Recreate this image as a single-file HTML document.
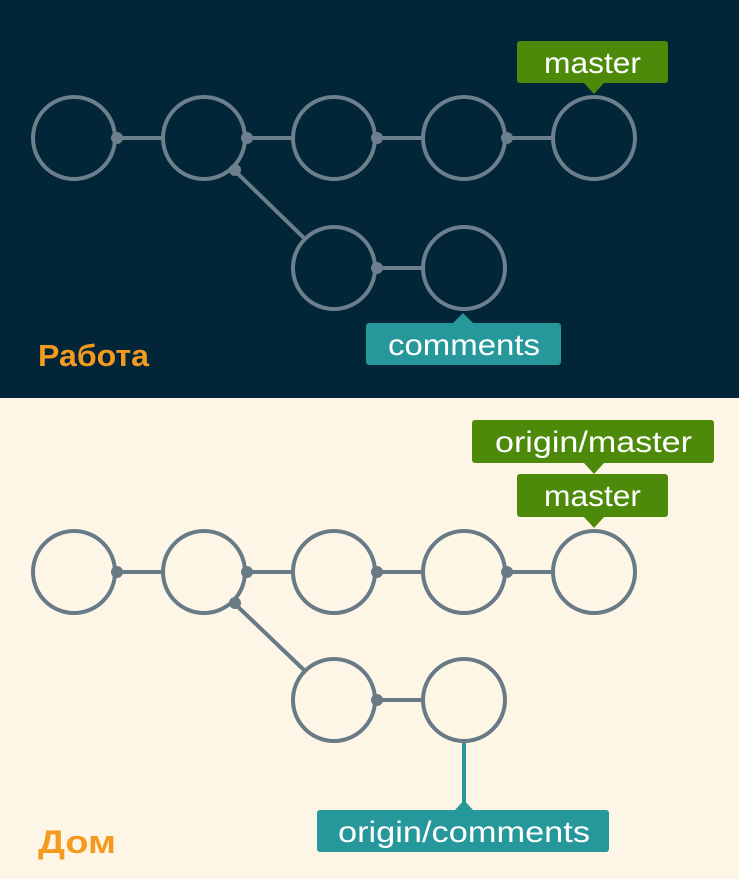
<!DOCTYPE html>
<html><head><meta charset="utf-8"><style>
html,body{margin:0;padding:0;}
body{width:739px;height:879px;overflow:hidden;background:#fdf6e6;}
svg{display:block;}
text{font-family:"Liberation Sans","DejaVu Sans",sans-serif;}
</style></head><body>
<svg width="739" height="879" viewBox="0 0 739 879" xmlns="http://www.w3.org/2000/svg">
<rect x="0" y="0" width="739" height="398" fill="#032538"/>
<rect x="0" y="398" width="739" height="481" fill="#fdf6e6"/>

<!-- TOP -->
<g stroke="#6b7f8d" stroke-width="4" fill="none">
  <line x1="116" y1="138" x2="162" y2="138"/>
  <line x1="246" y1="138" x2="292" y2="138"/>
  <line x1="376" y1="138" x2="422" y2="138"/>
  <line x1="506" y1="138" x2="552" y2="138"/>
  <line x1="376" y1="268" x2="422" y2="268"/>
  <line x1="234" y1="170" x2="304" y2="238"/>
  <circle cx="74" cy="138" r="41"/>
  <circle cx="204" cy="138" r="41"/>
  <circle cx="334" cy="138" r="41"/>
  <circle cx="464" cy="138" r="41"/>
  <circle cx="594" cy="138" r="41"/>
  <circle cx="334" cy="268" r="41"/>
  <circle cx="464" cy="268" r="41"/>
</g>
<g fill="#6b7f8d">
  <circle cx="117" cy="138" r="6"/><circle cx="247" cy="138" r="6"/>
  <circle cx="377" cy="138" r="6"/><circle cx="507" cy="138" r="6"/>
  <circle cx="377" cy="268" r="6"/><circle cx="235" cy="170" r="6"/>
</g>
<rect x="517" y="41" width="151" height="42" rx="3" fill="#4d8a0a"/>
<polygon points="584,83 604,83 594,94" fill="#4d8a0a"/>
<text x="544" y="73" font-size="30" fill="#fff" textLength="97" lengthAdjust="spacingAndGlyphs">master</text>
<rect x="366" y="323" width="195" height="42" rx="3" fill="#26979a"/>
<polygon points="453,323 473,323 463,313" fill="#26979a"/>
<text x="388" y="355" font-size="30" fill="#fff" textLength="152" lengthAdjust="spacingAndGlyphs">comments</text>
<text x="38" y="366" font-size="31" font-weight="bold" fill="#f39a1f" textLength="111" lengthAdjust="spacingAndGlyphs">Работа</text>

<!-- BOTTOM -->
<g stroke="#677a86" stroke-width="4" fill="none">
  <line x1="116" y1="572" x2="162" y2="572"/>
  <line x1="246" y1="572" x2="292" y2="572"/>
  <line x1="376" y1="572" x2="422" y2="572"/>
  <line x1="506" y1="572" x2="552" y2="572"/>
  <line x1="376" y1="700" x2="422" y2="700"/>
  <line x1="234" y1="603" x2="304" y2="670"/>
  <circle cx="74" cy="572" r="41"/>
  <circle cx="204" cy="572" r="41"/>
  <circle cx="334" cy="572" r="41"/>
  <circle cx="464" cy="572" r="41"/>
  <circle cx="594" cy="572" r="41"/>
  <circle cx="334" cy="700" r="41"/>
  <circle cx="464" cy="700" r="41"/>
</g>
<g fill="#677a86">
  <circle cx="117" cy="572" r="6"/><circle cx="247" cy="572" r="6"/>
  <circle cx="377" cy="572" r="6"/><circle cx="507" cy="572" r="6"/>
  <circle cx="377" cy="700" r="6"/><circle cx="235" cy="603" r="6"/>
</g>
<rect x="472" y="420" width="242" height="43" rx="3" fill="#4d8a0a"/>
<polygon points="584,463 604,463 594,474" fill="#4d8a0a"/>
<text x="495" y="452" font-size="30" fill="#fff" textLength="197" lengthAdjust="spacingAndGlyphs">origin/master</text>
<rect x="517" y="474" width="151" height="43" rx="3" fill="#4d8a0a"/>
<polygon points="584,517 604,517 594,528" fill="#4d8a0a"/>
<text x="544" y="506" font-size="30" fill="#fff" textLength="97" lengthAdjust="spacingAndGlyphs">master</text>
<line x1="464" y1="743" x2="464" y2="805" stroke="#26979a" stroke-width="4"/>
<rect x="317" y="810" width="292" height="42" rx="3" fill="#26979a"/>
<polygon points="455,810 473,810 464,800" fill="#26979a"/>
<text x="338" y="842" font-size="30" fill="#fff" textLength="252" lengthAdjust="spacingAndGlyphs">origin/comments</text>
<text x="38" y="853" font-size="32" font-weight="bold" fill="#f39a1f" textLength="78" lengthAdjust="spacingAndGlyphs">Дом</text>
</svg>
</body></html>
